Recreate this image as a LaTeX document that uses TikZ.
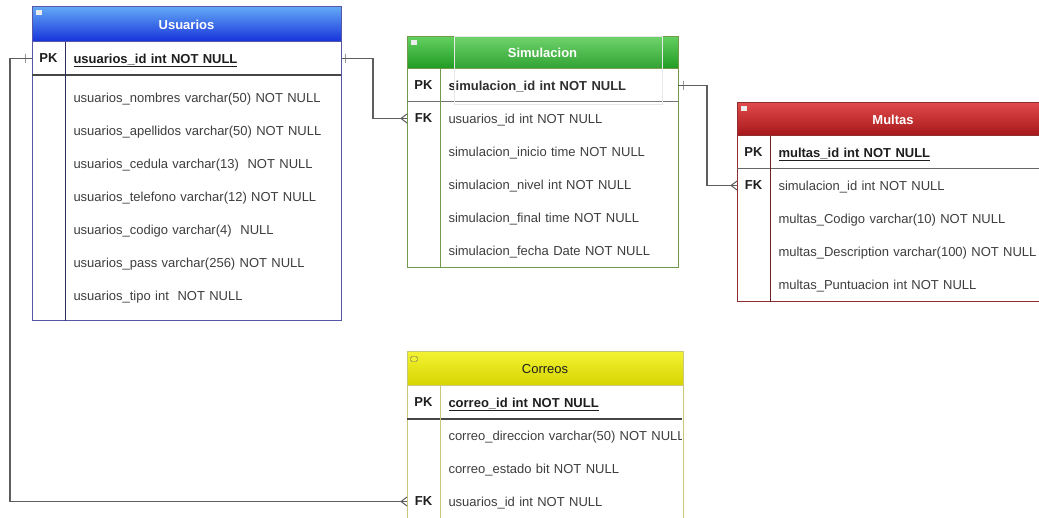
\documentclass[tikz,border=0pt]{standalone}
\usepackage{fontspec}
\setmainfont{Liberation Sans}
\usetikzlibrary{arrows.meta,positioning,decorations.markings}
\definecolor{UsrTop}{HTML}{62A8F6}
\definecolor{UsrBot}{HTML}{1630DA}
\definecolor{UsrLine}{HTML}{5656A6}
\definecolor{SimTop}{HTML}{62CF5E}
\definecolor{SimBot}{HTML}{1F9A22}
\definecolor{SimLine}{HTML}{719A48}
\definecolor{MulTop}{HTML}{E04A4A}
\definecolor{MulBot}{HTML}{A5171A}
\definecolor{MulLine}{HTML}{8E2E2E}
\definecolor{CorTop}{HTML}{F2F232}
\definecolor{CorBot}{HTML}{D6D400}
\definecolor{CorLine}{HTML}{C8C878}
\definecolor{Ink}{HTML}{1E1E1E}
\definecolor{Field}{HTML}{3E3E3E}
\definecolor{Wire}{HTML}{5E5E5E}
\tikzset{
  frame/.style={draw,fill=white,line width=1pt,anchor=north west,inner sep=0pt,outer sep=0pt},
  head/.style={draw,line width=1pt,anchor=north west,inner sep=0pt,outer sep=0pt,font=\fontsize{13}{15}\selectfont\bfseries,text=white},
  hicon/.style={fill=white!85!gray,minimum width=6pt,minimum height=5pt,inner sep=0pt,outer sep=0pt},
  keycell/.style={anchor=north west,minimum width=33pt,minimum height=33pt,inner sep=0pt,outer sep=0pt,text depth=0pt,font=\fontsize{13}{15}\selectfont\bfseries,text=Ink},
  pkfield/.style={minimum height=33pt,inner xsep=8.5pt,inner ysep=0pt,outer sep=0pt,text depth=0pt,align=left,text width=#1,font=\fontsize{13}{15}\selectfont\bfseries,text=Ink},
  fieldtext/.style={minimum height=33pt,inner xsep=8.5pt,inner ysep=0pt,outer sep=0pt,text depth=0pt,align=left,text width=#1,font=\fontsize{13}{15}\selectfont,text=Field},
  pkrule/.style={draw=black!72,line width=1.3pt},
  divider/.style={line width=1pt},
  relline/.style={draw=Wire,line width=1.1pt},
  many/.style={postaction={decorate},decoration={markings,mark=at position 1 with {\draw[line width=1pt] (0pt,4.5pt) -- (-6pt,0pt) -- (0pt,-4.5pt);}}},
  onetick/.style={draw=Wire,line width=1pt,minimum width=0pt,minimum height=9pt,inner sep=0pt,outer sep=0pt}
}
\begin{document}
\begin{tikzpicture}[x=1pt,y=-1pt]
  \useasboundingbox (0,0) rectangle (1039,518);
  \fill[white] (0,0) rectangle (1039,518);
  \clip (0,0) rectangle (1039,518);

  % Usuarios
  \node[frame,draw=UsrLine,minimum width=309pt,minimum height=314pt] (usr) at (32,7) {};
  \node[head,draw=UsrLine,top color=UsrTop,bottom color=UsrBot,minimum width=309pt,minimum height=35pt] (usrhead) at (32,7) {Usuarios};
  \node[hicon] (usricon) at ([xshift=7pt,yshift=-6pt]usrhead.north west) {};
  \node[keycell] (usrpkkey) at (usrhead.south west) {PK};
  \node[pkfield=259pt,right=0pt of usrpkkey] (usrpk) {\underline{usuarios\_id int NOT NULL}};
  \draw[pkrule] (usrpkkey.south west) -- (usrpk.south east);
  \node[fieldtext=259pt,below=6.5pt of usrpk] (usr1) {usuarios\_nombres varchar(50) NOT NULL};
  \node[fieldtext=259pt,below=0pt of usr1] (usr2) {usuarios\_apellidos varchar(50) NOT NULL};
  \node[fieldtext=259pt,below=0pt of usr2] (usr3) {usuarios\_cedula varchar(13) \ NOT NULL};
  \node[fieldtext=259pt,below=0pt of usr3] (usr4) {usuarios\_telefono varchar(12) NOT NULL};
  \node[fieldtext=259pt,below=0pt of usr4] (usr5) {usuarios\_codigo varchar(4) \ NULL};
  \node[fieldtext=259pt,below=0pt of usr5] (usr6) {usuarios\_pass varchar(256) NOT NULL};
  \node[fieldtext=259pt,below=0pt of usr6] (usr7) {usuarios\_tipo int \ NOT NULL};
  \draw[divider,draw=UsrLine!55!black] (usrpkkey.north east) -- (usrpkkey.north east |- usr.south);

  % Simulacion
  \node[frame,draw=SimLine,minimum width=271pt,minimum height=231pt] (sim) at (407,37) {};
  \node[head,draw=SimLine,top color=SimTop,bottom color=SimBot,minimum width=271pt,minimum height=32pt] (simhead) at (407,37) {Simulacion};
  \node[hicon] (simicon) at ([xshift=7pt,yshift=-6pt]simhead.north west) {};
  \node[keycell] (simpkkey) at (simhead.south west) {PK};
  \node[pkfield=221pt,right=0pt of simpkkey] (simpk) {simulacion\_id int NOT NULL};
  \draw[pkrule,draw=black!55,line width=1pt] (simpkkey.south west) -- (simpk.south east);
  \draw[draw=black!9,fill=white,fill opacity=0.08] (454,36) rectangle (662,104);
  \node[fieldtext=221pt,below=0pt of simpk] (simfk) {usuarios\_id int NOT NULL};
  \node[keycell,left=0pt of simfk] (simfkkey) {FK};
  \node[fieldtext=221pt,below=0pt of simfk] (sim1) {simulacion\_inicio time NOT NULL};
  \node[fieldtext=221pt,below=0pt of sim1] (sim2) {simulacion\_nivel int NOT NULL};
  \node[fieldtext=221pt,below=0pt of sim2] (sim3) {simulacion\_final time NOT NULL};
  \node[fieldtext=221pt,below=0pt of sim3] (sim4) {simulacion\_fecha Date NOT NULL};
  \draw[divider,draw=SimLine] (simpkkey.north east) -- (simpkkey.north east |- sim.south);

  % Multas
  \node[frame,draw=MulLine,minimum width=312pt,minimum height=199pt] (mul) at (737,103) {};
  \node[head,draw=MulLine,top color=MulTop,bottom color=MulBot,minimum width=312pt,minimum height=33pt] (mulhead) at (737,103) {Multas};
  \node[hicon] (mulicon) at ([xshift=7pt,yshift=-6pt]mulhead.north west) {};
  \node[keycell] (mulpkkey) at (mulhead.south west) {PK};
  \node[pkfield=262pt,right=0pt of mulpkkey] (mulpk) {\underline{multas\_id int NOT NULL}};
  \draw[pkrule,draw=black!60,line width=1pt] (mulpkkey.south west) -- (mulpk.south east);
  \node[fieldtext=262pt,below=0pt of mulpk] (mulfk) {simulacion\_id int NOT NULL};
  \node[keycell,left=0pt of mulfk] (mulfkkey) {FK};
  \node[fieldtext=262pt,below=0pt of mulfk] (mul1) {multas\_Codigo varchar(10) NOT NULL};
  \node[fieldtext=262pt,below=0pt of mul1] (mul2) {multas\_Description varchar(100) NOT NULL};
  \node[fieldtext=262pt,below=0pt of mul2] (mul3) {multas\_Puntuacion int NOT NULL};
  \draw[divider,draw=MulLine!75!black] (mulpkkey.north east) -- (mulpkkey.north east |- mul.south);

  % Correos
  \node[frame,draw=CorLine,minimum width=276pt,minimum height=188pt] (cor) at (407,352) {};
  \node[head,draw=CorLine,top color=CorTop,bottom color=CorBot,minimum width=276pt,minimum height=34pt,text=Ink,font=\fontsize{13}{15}\selectfont] (corhead) at (407,352) {Correos};
  \node[hicon,draw=black!60,fill=CorTop,rounded corners=1.5pt,minimum width=7pt,minimum height=5pt] (coricon) at ([xshift=7pt,yshift=-7pt]corhead.north west) {};
  \node[keycell] (corpkkey) at (corhead.south west) {PK};
  \node[pkfield=225pt,right=0pt of corpkkey] (corpk) {\underline{correo\_id int NOT NULL}};
  \draw[pkrule] (corpkkey.south west) -- (corpk.south east);
  \begin{scope}
    \clip (cor.north west) rectangle ([xshift=-2pt]cor.south east);
    \node[fieldtext=245pt,anchor=north west] (cor1) at (corpk.south west) {correo\_direccion varchar(50) NOT NULL};
  \end{scope}
  \node[fieldtext=225pt,anchor=north west] (cor2) at (cor1.south west) {correo\_estado bit NOT NULL};
  \node[fieldtext=225pt,below=0pt of cor2] (cor3) {usuarios\_id int NOT NULL};
  \node[keycell,left=0pt of cor3] (corfkkey) {FK};
  \draw[divider,draw=CorLine] (corpkkey.north east) -- (corpkkey.north east |- cor.south);

  % relations
  \coordinate (leftrail) at (10,300);
  \coordinate (usrrail) at (373,90);
  \coordinate (simrail) at (707,140);
  \draw[relline,many] (usrpkkey.west) -| (leftrail) |- (corfkkey.west);
  \draw[relline,many] (usrpk.east) -| (usrrail) |- (simfkkey.west);
  \draw[relline,many] (simpk.east) -| (simrail) |- (mulfkkey.west);
  \node[onetick] (usrtick) at ([xshift=-7pt]usrpkkey.west) {};
  \node[onetick] (usrtick2) at ([xshift=4pt]usrpk.east) {};
  \node[onetick] (simtick) at ([xshift=5pt]simpk.east) {};
\end{tikzpicture}
\end{document}
